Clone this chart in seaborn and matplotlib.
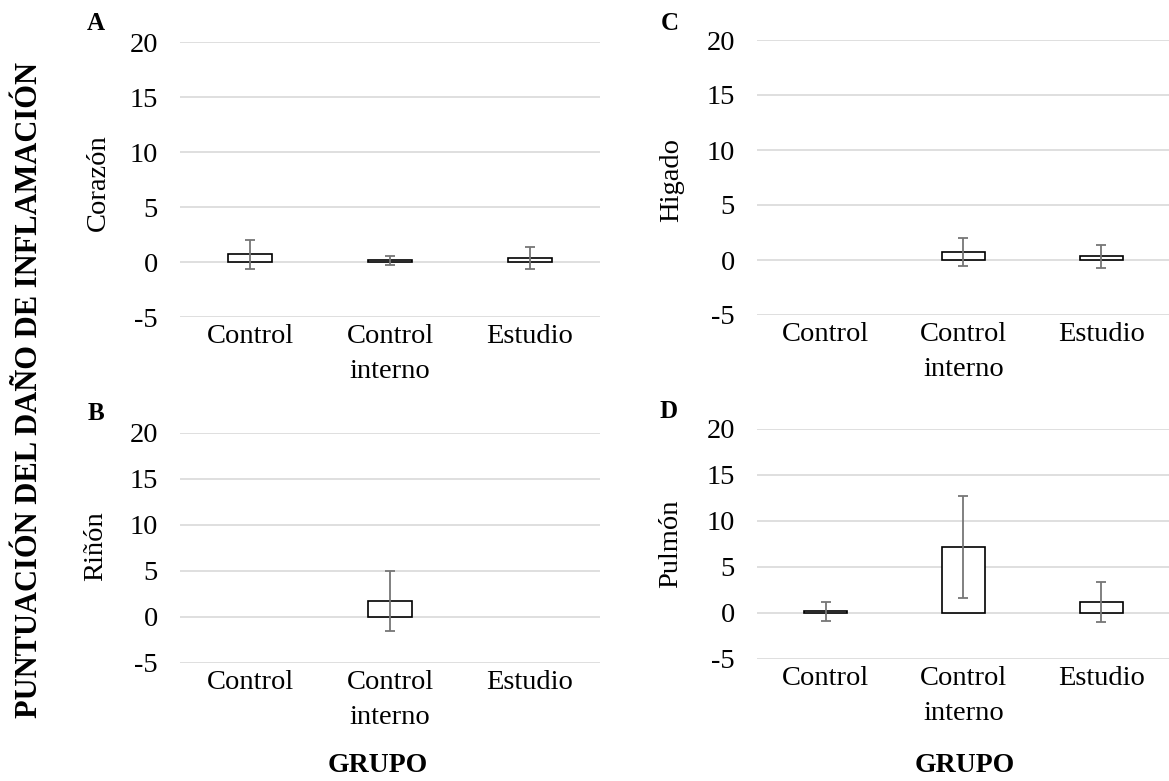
import numpy as np
import pandas as pd
import matplotlib
matplotlib.use('Agg')
import matplotlib.pyplot as plt
import seaborn as sns

# Data (mean score and error per group)
groups = ['Control', 'Control interno', 'Estudio']
tick_labels = ['Control', 'Control\ninterno', 'Estudio']

corazon_mean = [0.7, 0.15, 0.33]
corazon_err = [1.3, 0.38, 1.0]

higado_mean = [np.nan, 0.7, 0.35]
higado_err = [np.nan, 1.27, 1.05]

rinon_mean = [np.nan, 1.75, np.nan]
rinon_err = [np.nan, 3.3, np.nan]

pulmon_mean = [0.17, 7.15, 1.2]
pulmon_err = [1.0, 5.55, 2.2]

sns.set_theme(style='white')
plt.rcParams['font.family'] = ['Liberation Serif', 'DejaVu Serif']
plt.rcParams['axes.unicode_minus'] = False
for key in ['text.color', 'axes.labelcolor', 'xtick.color', 'ytick.color']:
    plt.rcParams[key] = 'black'

W, H = 1169, 781
fig = plt.figure(figsize=(W / 100, H / 100), dpi=100)


def px_axes(x0, x1, y_top, y_bot):
    return fig.add_axes([x0 / W, 1 - y_bot / H, (x1 - x0) / W, (y_bot - y_top) / H])


# letter, organ, means, errors, axes box (px), letter pos (px), ylabel pos (axes coords)
panels = [
    ('A', 'Corazón', corazon_mean, corazon_err, (180, 600, 42, 317), (96, 24), (-0.195, 0.49)),
    ('C', 'Higado', higado_mean, higado_err, (757, 1170, 40, 315), (670, 24), (-0.206, 0.49)),
    ('B', 'Riñón', rinon_mean, rinon_err, (180, 600, 433, 663), (96, 413), (-0.202, 0.51)),
    ('D', 'Pulmón', pulmon_mean, pulmon_err, (757, 1170, 429, 659), (669, 411), (-0.21, 0.50)),
]

for letter, organ, means, errs, box, lpos, ylpos in panels:
    ax = px_axes(*box)
    df = pd.DataFrame({'grupo': groups, 'valor': means}).dropna()
    sns.barplot(data=df, x='grupo', y='valor', order=groups, ax=ax,
                color='white', edgecolor='black', linewidth=1.2,
                width=0.31, errorbar=None)
    xs = np.arange(len(groups))
    ax.errorbar(xs, means, yerr=errs, fmt='none', ecolor='#767676',
                elinewidth=1.3, capsize=3.6, capthick=1.3, zorder=5)
    ax.set_ylim(-5, 20)
    ax.set_yticks([-5, 0, 5, 10, 15, 20])
    ax.set_xlim(-0.5, 2.5)
    ax.set_xticks(xs)
    ax.set_xticklabels(tick_labels, fontsize=20.5, linespacing=1.55)
    ax.tick_params(axis='y', labelsize=20.5, pad=16, length=0)
    ax.tick_params(axis='x', pad=5, length=0)
    ax.yaxis.grid(True, color='#d9d9d9', linewidth=1.2)
    ax.set_axisbelow(True)
    for s in ax.spines.values():
        s.set_visible(False)
    ax.set_xlabel('')
    ax.set_ylabel(organ, fontsize=20.5, va='center')
    ax.yaxis.set_label_coords(*ylpos)
    fig.text(lpos[0] / W, 1 - lpos[1] / H, letter, fontsize=18, fontweight='bold',
             ha='center', va='center')

fig.text(30 / W, 1 - 390 / H, 'PUNTUACIÓN DEL DAÑO DE INFLAMACIÓN', rotation=90,
         fontsize=22, fontweight='bold', ha='center', va='center')
fig.text(378 / W, 1 - 766 / H, 'GRUPO', fontsize=20, fontweight='bold',
         ha='center', va='center')
fig.text(965 / W, 1 - 766 / H, 'GRUPO', fontsize=20, fontweight='bold',
         ha='center', va='center')

fig.savefig('out.png', dpi=100, facecolor='white')
